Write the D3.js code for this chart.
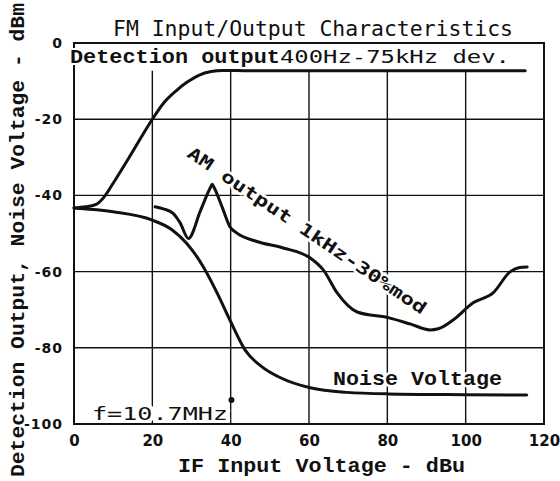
<!DOCTYPE html>
<html><head><meta charset="utf-8">
<script src="https://cdn.jsdelivr.net/npm/d3@7"></script>
<style>
html,body{margin:0;padding:0;background:#fff;}
svg{display:block;}
</style></head>
<body>
<svg id="c" width="560" height="481"></svg>
<script>
// ---- data ----
const xTicks = [0, 20, 40, 60, 80, 100, 120];
const yTicks = [0, -20, -40, -60, -80, -100];
const gridX = [20, 40, 60, 80, 100];
const gridY = [-20, -40, -60, -80];

const detX = [0, 3, 5.8, 8, 10, 13.8, 17, 20, 23, 26, 29, 32, 35, 38, 45, 60, 80, 100, 115.2];
const detY = [-43.3, -43, -42.3, -40, -36.8, -30.5, -25, -20, -15.6, -12.6, -10.2, -8.4, -7.5, -7.2, -7.3, -7.3, -7.3, -7.3, -7.3];

const noiseX = [0, 10, 20, 25, 28.8, 33, 36.5, 39.8, 43.7, 48, 52.6, 60.3, 69.6, 80.2, 100, 115.6];
const noiseY = [-43.3, -44.3, -46.5, -49, -52.6, -58.7, -65.5, -72.7, -80.6, -85, -87.8, -90.5, -91.7, -92.1, -92.3, -92.4];

const amX = [20.7, 23, 25.3, 27.1, 29.2, 32.3, 34.9, 35.3, 35.8, 37.8, 39.8, 41.6, 46.7, 53.4, 60.3, 63.7, 67.2, 72.3, 80.7, 86, 90.9, 93, 96.8, 101.9, 107, 111.4, 113.5, 115.7];
const amY = [-43, -43.6, -44.7, -47.2, -51.3, -44, -37.8, -37.1, -38, -43, -48.2, -49.9, -52.1, -53.8, -56.4, -59.6, -65.6, -70.6, -72.2, -73.8, -75.3, -75, -72.7, -68.2, -65.6, -60, -59, -58.8];

const markerPt = [40.2, -93.7];
const gridTop = -7.3;

const titleText = "FM Input/Output Characteristics";
const detLabelA = "Detection output";
const detLabelB = "400Hz-75kHz dev.";
const amLabel = "AM output 1kHz-30%mod";
const noiseLabel = "Noise Voltage";
const freqLabel = "f=10.7MHz";
const xLabel = "IF Input Voltage - dBu";
const yLabel = "Detection Output, Noise Voltage - dBm";

// ---- layout ----
const L = 74, R = 544, T = 43, B = 424;
const x = d3.scaleLinear().domain([0, 120]).range([L, R]);
const y = d3.scaleLinear().domain([0, -100]).range([T, B]);

const svg = d3.select("#c");
const ink = "#111";

// grid
svg.append("g").selectAll("line").data(gridX).join("line")
  .attr("x1", d => x(d)).attr("x2", d => x(d))
  .attr("y1", y(gridTop)).attr("y2", y(-100))
  .attr("stroke", ink).attr("stroke-width", 1.4);
svg.append("g").selectAll("line").data(gridY).join("line")
  .attr("x1", x(0)).attr("x2", x(120))
  .attr("y1", d => y(d)).attr("y2", d => y(d))
  .attr("stroke", ink).attr("stroke-width", 1.4);

// frame
svg.append("rect").attr("x", L).attr("y", T).attr("width", R - L).attr("height", B - T)
  .attr("fill", "none").attr("stroke", ink).attr("stroke-width", 2);

// axes
const xa = svg.append("g").attr("transform", `translate(0,${B})`)
  .call(d3.axisBottom(x).tickValues(xTicks).tickSize(0).tickPadding(11).tickFormat(d => String(d)));
xa.select(".domain").remove();
xa.selectAll("text").attr("font-family", "DejaVu Sans").attr("font-weight", "bold")
  .attr("font-size", 15).attr("fill", ink);

const ya = svg.append("g").attr("transform", `translate(${L},0)`)
  .call(d3.axisLeft(y).tickValues(yTicks).tickSize(0).tickPadding(11).tickFormat(d => String(d)));
ya.select(".domain").remove();
ya.selectAll("text").attr("font-family", "DejaVu Sans").attr("font-weight", "bold")
  .attr("font-size", 14).attr("letter-spacing", 1).attr("fill", ink);

// curves
const smooth = d3.line().x(d => x(d[0])).y(d => y(d[1])).curve(d3.curveMonotoneX);
function draw(xs, ys) {
  svg.append("path").datum(xs.map((v, i) => [v, ys[i]]))
    .attr("d", smooth).attr("fill", "none").attr("stroke", ink)
    .attr("stroke-width", 3).attr("stroke-linejoin", "round").attr("stroke-linecap", "round");
}
draw(noiseX, noiseY);
draw(amX, amY);
draw(detX, detY);

// marker
svg.append("circle").attr("cx", x(markerPt[0])).attr("cy", y(markerPt[1])).attr("r", 3).attr("fill", ink);

// texts
function txt(s, opts) {
  const t = svg.append("text").text(s)
    .attr("x", opts.x).attr("y", opts.y)
    .attr("font-family", opts.family).attr("font-size", opts.size)
    .attr("font-weight", opts.weight || "normal").attr("fill", ink);
  if (opts.len) t.attr("textLength", opts.len).attr("lengthAdjust", "spacingAndGlyphs");
  if (opts.anchor) t.attr("text-anchor", opts.anchor);
  if (opts.rot !== undefined) t.attr("transform", `rotate(${opts.rot},${opts.x},${opts.y})`);
  if (opts.halo) t.attr("stroke", "#fff").attr("stroke-width", opts.halo).attr("paint-order", "stroke").attr("stroke-linejoin", "round");
  return t;
}
txt(titleText, {x: 113, y: 36, family: "DejaVu Sans Mono", size: 22, len: 400});
txt(detLabelA, {x: 70, y: 63, family: "Liberation Mono", size: 21, weight: "bold", len: 210, halo: 4});
txt(detLabelB, {x: 280, y: 63, family: "DejaVu Sans Mono", size: 17, len: 230, halo: 4});
txt(amLabel, {x: 186, y: 156, family: "DejaVu Sans Mono", size: 17, weight: "bold", len: 284, rot: 34, halo: 5});
txt(noiseLabel, {x: 333, y: 385, family: "Liberation Mono", size: 21, weight: "bold", len: 169, halo: 5});
txt(freqLabel, {x: 92, y: 420, family: "DejaVu Sans Mono", size: 17, len: 136, halo: 6});
txt(xLabel, {x: 178, y: 472, family: "Liberation Mono", size: 21, weight: "bold", len: 287});
txt(yLabel, {x: 24, y: 240, family: "Liberation Mono", size: 21, weight: "bold", len: 474, anchor: "middle", rot: -90});
</script>
</body></html>
